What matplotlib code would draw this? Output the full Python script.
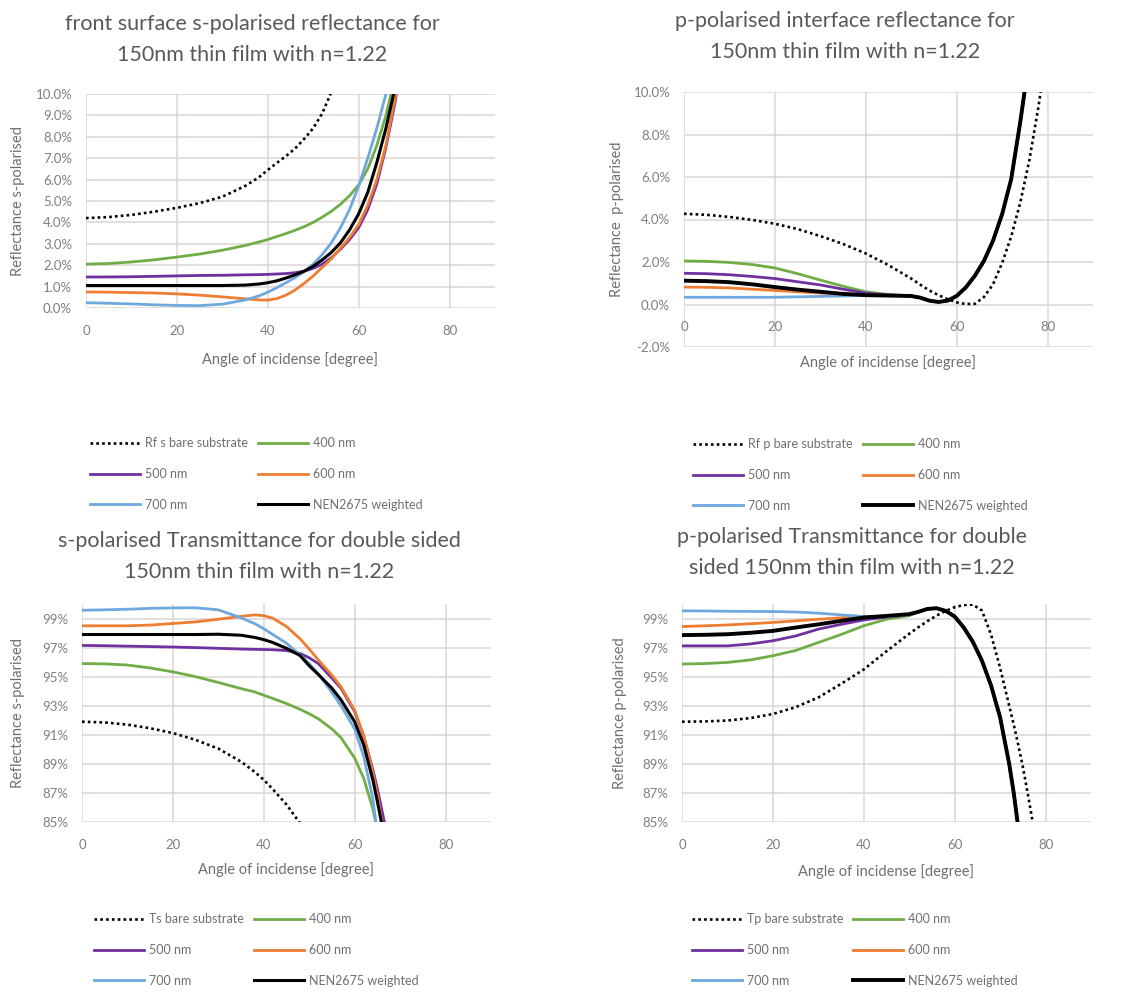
import numpy as np
import matplotlib
matplotlib.use("Agg")
import matplotlib.pyplot as plt
from matplotlib.ticker import FixedLocator, FuncFormatter

plt.rcParams['font.family'] = ['Lato', 'DejaVu Sans']

nan = np.nan

# ---------------- data ----------------
# front surface s-polarised reflectance [%]
angles_rs = [0, 5, 10, 15, 20, 25, 30, 35, 38, 40, 42, 44, 46, 48, 50, 52, 54, 56, 58, 60, 62, 64, 66, 68, 70]
rs_bare = [4.20, 4.25, 4.35, 4.50, 4.68, 4.90, 5.20, 5.70, 6.10, 6.45, 6.78, 7.10, 7.45, 7.90, 8.40, 9.10, 10.10, 11.2,
           nan, nan, nan, nan, nan, nan, nan]
rs_400 = [2.05, 2.08, 2.15, 2.25, 2.38, 2.52, 2.70, 2.92, 3.08, 3.20, 3.34, 3.48, 3.63, 3.80, 4.00, 4.25, 4.52, 4.85,
          5.25, 5.75, 6.50, 7.60, 9.00, 10.8, 13.0]
rs_500 = [1.45, 1.45, 1.46, 1.48, 1.50, 1.52, 1.53, 1.55, 1.56, 1.57, 1.59, 1.61, 1.65, 1.72, 1.85, 2.05, 2.35, 2.75,
          3.20, 3.75, 4.60, 5.80, 7.50, 9.60, 12.5]
rs_600 = [0.75, 0.74, 0.72, 0.70, 0.66, 0.60, 0.52, 0.43, 0.38, 0.37, 0.44, 0.60, 0.84, 1.15, 1.50, 1.90, 2.30, 2.80,
          3.30, 3.90, 4.80, 6.00, 7.60, 9.80, 12.6]
rs_700 = [0.25, 0.22, 0.19, 0.15, 0.12, 0.11, 0.18, 0.37, 0.56, 0.74, 0.95, 1.18, 1.42, 1.70, 2.05, 2.50, 3.05, 3.75,
          4.60, 5.70, 7.00, 8.40, 10.0, 12.0, 14.5]
rs_nen = [1.05, 1.05, 1.05, 1.05, 1.05, 1.05, 1.05, 1.07, 1.12, 1.18, 1.27, 1.40, 1.55, 1.72, 1.95, 2.25, 2.60, 3.05,
          3.65, 4.40, 5.40, 6.80, 8.40, 10.3, 13.0]

# p-polarised interface reflectance [%]
angles_rp = [0, 5, 10, 15, 20, 25, 30, 35, 40, 45, 50, 52, 54, 56, 58, 60, 62, 64, 66, 68, 70, 72, 74, 76, 78, 80]
rp_bare = [4.27, 4.22, 4.12, 3.98, 3.80, 3.55, 3.22, 2.85, 2.40, 1.85, 1.22, 0.93, 0.66, 0.44, 0.25, 0.10, 0.02, 0.03,
           0.35, 0.95, 1.95, 3.20, 4.80, 6.80, 9.30, 12.3]
rp_400 = [2.05, 2.03, 1.98, 1.88, 1.72, 1.45, 1.15, 0.86, 0.60, 0.47, 0.41, 0.32, 0.18, 0.12, 0.18, 0.40, 0.80, 1.35,
          2.05, 3.00, 4.25, 5.90, 8.60, 11.6, nan, nan]
rp_500 = [1.47, 1.45, 1.40, 1.32, 1.22, 1.07, 0.92, 0.72, 0.54, 0.45, 0.40, 0.32, 0.18, 0.12, 0.18, 0.40, 0.80, 1.35,
          2.05, 3.00, 4.25, 5.90, 8.60, 11.6, nan, nan]
rp_600 = [0.82, 0.81, 0.78, 0.72, 0.66, 0.60, 0.54, 0.49, 0.45, 0.42, 0.40, 0.32, 0.18, 0.12, 0.18, 0.40, 0.80, 1.35,
          2.05, 3.00, 4.25, 5.90, 8.60, 11.6, nan, nan]
rp_700 = [0.34, 0.34, 0.34, 0.34, 0.34, 0.36, 0.38, 0.40, 0.43, 0.43, 0.41, 0.33, 0.19, 0.13, 0.19, 0.42, 0.83, 1.38,
          2.08, 3.03, 4.28, 5.93, 8.63, 11.6, nan, nan]
rp_nen = [1.12, 1.10, 1.05, 0.95, 0.82, 0.70, 0.60, 0.50, 0.44, 0.42, 0.40, 0.32, 0.18, 0.12, 0.18, 0.40, 0.80, 1.35,
          2.05, 3.00, 4.25, 5.90, 8.60, 11.6, nan, nan]

# s-polarised transmittance, double sided [%]
angles_ts = [0, 5, 10, 15, 20, 25, 30, 35, 38, 40, 42, 45, 48, 50, 52, 55, 57, 60, 62, 64, 65, 66, 67, 68]
ts_bare = [91.9, 91.85, 91.7, 91.45, 91.12, 90.65, 90.05, 89.15, 88.45, 87.9, 87.25, 86.2, 84.9,
           nan, nan, nan, nan, nan, nan, nan, nan, nan, nan, nan]
ts_400 = [95.9, 95.88, 95.8, 95.6, 95.33, 95.0, 94.6, 94.18, 93.95, 93.72, 93.5, 93.15, 92.75, 92.45, 92.1, 91.4,
          90.8, 89.4, 88.0, 85.9, 84.5, 83.0, 81.5, 80.0]
ts_500 = [97.15, 97.13, 97.1, 97.07, 97.04, 97.0, 96.95, 96.9, 96.88, 96.87, 96.85, 96.8, 96.6, 96.3, 95.9, 94.9,
          94.2, 92.6, 90.9, 88.6, 87.3, 85.8, 84.3, 82.5]
ts_600 = [98.5, 98.5, 98.5, 98.55, 98.66, 98.77, 98.95, 99.15, 99.25, 99.2, 99.02, 98.45, 97.6, 96.9, 96.15, 95.1,
          94.3, 92.7, 90.9, 88.4, 86.9, 85.0, 83.0, 81.0]
ts_700 = [99.57, 99.6, 99.64, 99.7, 99.73, 99.74, 99.6, 99.05, 98.65, 98.3, 97.9, 97.3, 96.5, 95.9, 95.2, 93.9,
          93.0, 91.4, 89.5, 86.6, 84.2, 81.0, 79.0, 77.0]
ts_nen = [97.9, 97.9, 97.9, 97.9, 97.9, 97.9, 97.92, 97.85, 97.7, 97.55, 97.35, 96.95, 96.45, 95.75, 95.15, 94.2,
          93.4, 91.9, 90.3, 87.9, 86.4, 84.8, 83.0, 81.0]

# p-polarised transmittance, double sided [%]
angles_tp = [0, 5, 10, 15, 20, 25, 30, 35, 40, 45, 50, 52, 54, 56, 58, 60, 62, 64, 66, 68, 70, 72, 73, 74, 75, 76, 77, 78]
tp_bare = [91.9, 91.92, 91.98, 92.15, 92.43, 92.9, 93.57, 94.5, 95.5, 96.75, 97.95, 98.4, 98.82, 99.2, 99.52, 99.78,
           99.93, 99.96, 99.55, 97.9, 95.6, 93.0, 91.7, 90.3, 88.8, 87.1, 85.3, 83.5]
tp_400 = [95.87, 95.9, 95.98, 96.15, 96.44, 96.8, 97.35, 97.9, 98.5, 98.95, 99.2, 99.46, 99.66, 99.71, 99.53, 99.14,
          98.38, 97.4, 96.1, 94.4, 92.2, 89.0, 87.0, 84.6, nan, nan, nan, nan]
tp_500 = [97.12, 97.12, 97.12, 97.25, 97.47, 97.8, 98.27, 98.6, 98.9, 99.1, 99.25, 99.46, 99.66, 99.71, 99.53, 99.14,
          98.38, 97.4, 96.1, 94.4, 92.2, 89.0, 87.0, 84.6, nan, nan, nan, nan]
tp_600 = [98.45, 98.5, 98.56, 98.64, 98.73, 98.84, 98.95, 99.05, 99.1, 99.14, 99.25, 99.46, 99.66, 99.71, 99.53, 99.14,
          98.38, 97.4, 96.1, 94.4, 92.2, 89.0, 87.0, 84.6, nan, nan, nan, nan]
tp_700 = [99.53, 99.52, 99.5, 99.49, 99.48, 99.45, 99.37, 99.25, 99.14, 99.14, 99.25, 99.46, 99.66, 99.71, 99.53, 99.14,
          98.38, 97.4, 96.1, 94.4, 92.2, 89.0, 87.0, 84.6, nan, nan, nan, nan]
tp_nen = [97.86, 97.88, 97.92, 98.02, 98.15, 98.38, 98.6, 98.84, 99.07, 99.18, 99.3, 99.46, 99.66, 99.71, 99.53, 99.14,
          98.38, 97.4, 96.1, 94.4, 92.2, 89.0, 87.0, 84.6, nan, nan, nan, nan]

wavelength_labels = ["400 nm", "500 nm", "600 nm", "700 nm"]
weighted_label = "NEN2675 weighted"
x_ticks = [0, 20, 40, 60, 80]
x_label = "Angle of incidense [degree]"

# ---------------- styling ----------------
W, H = 1128, 992
C_GREEN = "#70ad47"
C_PURPLE = "#7030a0"
C_ORANGE = "#ed7d31"
C_BLUE = "#6fa8dc"
C_GRID = "#dcd5d5"
C_TICK = "#7f7f7f"
C_TITLE = "#595959"
COLORS = [C_GREEN, C_PURPLE, C_ORANGE, C_BLUE]
DOTTED = (0, (1, 1.2))

fig = plt.figure(figsize=(W / 100, H / 100), dpi=100)
fig.patch.set_facecolor("white")


def make_axes(left, right, top, bottom):
    return fig.add_axes([left / W, 1 - bottom / H, (right - left) / W, (bottom - top) / H])


def panel(ax, angles, bare, series, nen, bare_label, ylim, yticks, yfmt, ylabel,
          nen_lw, axis_at, px_w, px_h, ylab_x, xlab_y):
    ax.set_xlim(0, 90)
    ax.set_ylim(*ylim)
    for s in ax.spines.values():
        s.set_visible(False)
    ax.xaxis.set_major_locator(FixedLocator(x_ticks))
    ax.yaxis.set_major_locator(FixedLocator(yticks))
    ax.yaxis.set_major_formatter(FuncFormatter(yfmt))
    ax.grid(True, color=C_GRID, lw=1.1)
    ax.set_axisbelow(True)
    ax.spines['bottom'].set_position(('data', axis_at))
    ax.tick_params(axis='both', length=0, colors=C_TICK, labelsize=9.5)
    ax.tick_params(axis='x', pad=12)
    ax.tick_params(axis='y', pad=10)

    h_bare, = ax.plot(angles, bare, color="black", lw=1.9, ls=DOTTED, label=bare_label)
    handles = []
    for vals, col, lab in zip(series, COLORS, wavelength_labels):
        h, = ax.plot(angles, vals, color=col, lw=2.0, label=lab)
        handles.append(h)
    h_nen, = ax.plot(angles, nen, color="black", lw=nen_lw, label=weighted_label)

    ax.set_xlabel(x_label, fontsize=10.5, color="#6f6f6f")
    ax.xaxis.set_label_coords(0.5, -xlab_y / px_h)
    ax.xaxis.label.set_va("center")
    ax.set_ylabel(ylabel, fontsize=10.5, color="#6f6f6f")
    ax.yaxis.set_label_coords(ylab_x / px_w, 0.5)
    ax.yaxis.label.set_va("center")
    # legend rows: bare | 400, 500 | 600, 700 | weighted
    order = [h_bare, handles[1], handles[3], handles[0], handles[2], h_nen]
    return order


def add_legend(order, cx, cy):
    fig.legend(handles=order, labels=[h.get_label() for h in order], ncol=2, loc="center",
               bbox_to_anchor=(cx / W, 1 - cy / H), frameon=False, fontsize=9,
               handlelength=4.0, handletextpad=0.4, columnspacing=0.8, labelspacing=1.5,
               labelcolor="#6f6f6f")


def add_title(lines, cx, y0, dy=31):
    for i, t in enumerate(lines):
        fig.text(cx / W, 1 - (y0 + i * dy) / H, t, ha="center", va="center",
                 fontsize=15.5, color=C_TITLE)


pct1 = lambda v, p: f"{v:.1f}%"
pct0 = lambda v, p: f"{v:.0f}%"

# top-left
ax1 = make_axes(86, 495, 94, 308)
o1 = panel(ax1, angles_rs, rs_bare, [rs_400, rs_500, rs_600, rs_700], rs_nen, "Rf s bare substrate",
           (0, 10), list(range(0, 11)), pct1, "Reflectance s-polarised", 2.2, 0,
           409, 214, 18 - 86, 52)
add_legend(o1, 256, 474)
add_title(["front surface s-polarised reflectance for", "150nm thin film with n=1.22"], 252, 24)

# top-right
ax2 = make_axes(684, 1093, 92, 347)
o2 = panel(ax2, angles_rp, rp_bare, [rp_400, rp_500, rp_600, rp_700], rp_nen, "Rf p bare substrate",
           (-2, 10), [-2, 0, 2, 4, 6, 8, 10], pct1, "Reflectance  p-polarised", 2.8, 0,
           409, 255, 617 - 684, 16)
add_legend(o2, 860, 475)
add_title(["p-polarised interface reflectance for", "150nm thin film with n=1.22"], 845, 21)

# bottom-left
ax3 = make_axes(82, 491, 604, 822)
o3 = panel(ax3, angles_ts, ts_bare, [ts_400, ts_500, ts_600, ts_700], ts_nen, "Ts bare substrate",
           (85, 100), list(range(85, 100, 2)), pct0, "Reflectance s-polarised", 2.2, 85,
           409, 218, 18 - 82, 48)
add_legend(o3, 256, 950)
add_title(["s-polarised Transmittance for double sided", "150nm thin film with n=1.22"], 259, 541)

# bottom-right
ax4 = make_axes(682, 1091, 604, 822)
o4 = panel(ax4, angles_tp, tp_bare, [tp_400, tp_500, tp_600, tp_700], tp_nen, "Tp bare substrate",
           (85, 100), list(range(85, 100, 2)), pct0, "Reflectance p-polarised", 2.8, 85,
           409, 218, 620 - 682, 50)
add_legend(o4, 855, 950)
add_title(["p-polarised Transmittance for double", "sided 150nm thin film with n=1.22"], 852, 537)

fig.savefig("out.png", dpi=100, facecolor="white")
